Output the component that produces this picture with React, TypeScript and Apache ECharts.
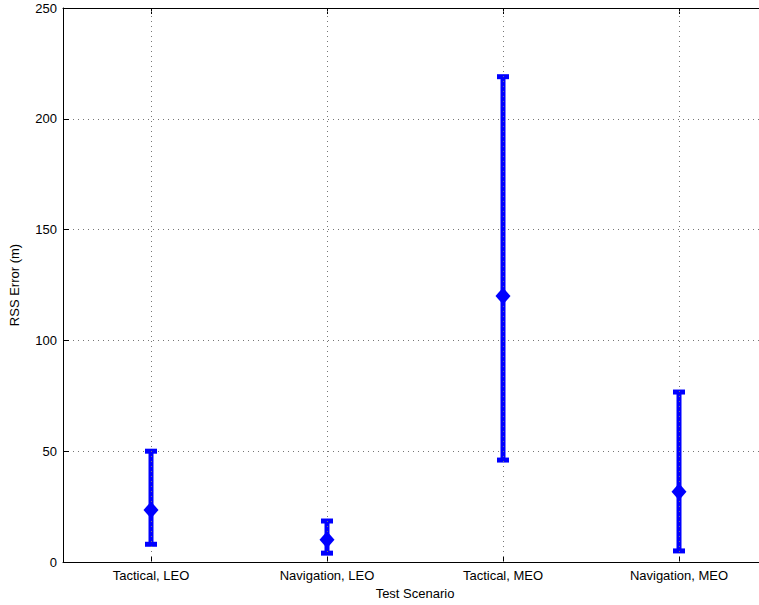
import React, { useEffect, useRef } from "react";
import * as echarts from "echarts";

const categories = ["Tactical, LEO", "Navigation, LEO", "Tactical, MEO", "Navigation, MEO"];
const meanValues = [23.5, 10, 120, 31.7];
const lowerValues = [8, 4, 46, 5];
const upperValues = [50, 18.5, 219, 76.7];
const yTicks = [0, 50, 100, 150, 200, 250];

const FONT = "'Liberation Sans', Arial, Helvetica, sans-serif";
const BLUE = "#0000ff";

export default function App() {
  const ref = useRef<HTMLDivElement>(null);
  useEffect(() => {
    if (!ref.current) return;
    const chart = echarts.init(ref.current, null, { renderer: "svg" });
    const xs = categories.map((_, i) => i + 1);
    const errData = xs.map((x, i) => [x, lowerValues[i], upperValues[i]]);
    const meanData = xs.map((x, i) => [x, meanValues[i]]);
    chart.setOption({
      animation: false,
      backgroundColor: "#ffffff",
      grid: { left: 63, top: 8, width: 704, height: 554, containLabel: false, outerBoundsMode: "none" },
      xAxis: [
        {
          type: "value",
          min: 0.5,
          max: 4.5,
          name: "Test Scenario",
          nameLocation: "middle",
          nameGap: 24,
          nameTextStyle: { fontSize: 13, color: "#000", fontFamily: FONT },
          axisLine: { show: true, onZero: false, lineStyle: { color: "#000", width: 1 } },
          axisTick: { show: true, inside: true, length: 6, customValues: xs, lineStyle: { color: "#000" } },
          axisLabel: {
            show: true,
            customValues: xs,
            margin: 7,
            fontSize: 13,
            color: "#000",
            fontFamily: FONT,
            formatter: (v: number) => categories[Math.round(v) - 1] ?? "",
          },
          splitLine: { show: false },
        },
        {
          type: "value",
          position: "top",
          min: 0.5,
          max: 4.5,
          axisLine: { show: true, onZero: false, lineStyle: { color: "#000", width: 1 } },
          axisTick: { show: true, inside: true, length: 6, customValues: xs, lineStyle: { color: "#000" } },
          axisLabel: { show: false },
          splitLine: { show: false },
        },
      ],
      yAxis: {
        type: "value",
        min: 0,
        max: 250,
        interval: 50,
        name: "RSS Error (m)",
        nameLocation: "middle",
        nameGap: 42,
        nameTextStyle: { fontSize: 13, color: "#000", fontFamily: FONT },
        axisLine: { show: true, onZero: false, lineStyle: { color: "#000", width: 1 } },
        axisTick: { show: true, inside: true, length: 6, lineStyle: { color: "#000" } },
        axisLabel: {
          margin: 6,
          fontSize: 13,
          color: "#000",
          fontFamily: FONT,
          formatter: (v: number) => (yTicks.includes(v) ? String(v) : ""),
        },
        splitLine: { show: true, lineStyle: { color: "#777", type: [1, 4], width: 1 } },
      },
      series: [
        {
          type: "scatter",
          data: xs.map((x) => [x, 0]),
          symbolSize: 0,
          silent: true,
          markLine: {
            silent: true,
            symbol: "none",
            label: { show: false },
            lineStyle: { color: "#777", type: [1, 4], width: 1 },
            data: xs.map((x) => ({ xAxis: x })),
          },
        },
        {
          type: "custom",
          data: errData,
          renderItem: (params: any, api: any) => {
            const x = api.value(0);
            const lo = api.value(1);
            const hi = api.value(2);
            const pHi = api.coord([x, hi]);
            const pLo = api.coord([x, lo]);
            const capW = 12;
            const capH = 5;
            return {
              type: "group",
              children: [
                {
                  type: "line",
                  shape: { x1: pHi[0], y1: pHi[1], x2: pLo[0], y2: pLo[1] },
                  style: { stroke: BLUE, lineWidth: 5 },
                },
                {
                  type: "rect",
                  shape: { x: pHi[0] - capW / 2, y: pHi[1] - capH / 2, width: capW, height: capH },
                  style: { fill: BLUE },
                },
                {
                  type: "rect",
                  shape: { x: pLo[0] - capW / 2, y: pLo[1] - capH / 2, width: capW, height: capH },
                  style: { fill: BLUE },
                },
              ],
            };
          },
        },
        {
          type: "scatter",
          data: meanData,
          symbol: "diamond",
          symbolSize: [15, 17],
          itemStyle: { color: BLUE, opacity: 1 },
          z: 5,
        },
      ],
    });
    return () => chart.dispose();
  }, []);
  return (
    <div style={{ position: "fixed", left: 0, top: 0, width: 759, height: 605, overflow: "hidden", background: "#fff" }}>
      <div ref={ref} style={{ width: 759, height: 605, overflow: "hidden" }} />
    </div>
  );
}
